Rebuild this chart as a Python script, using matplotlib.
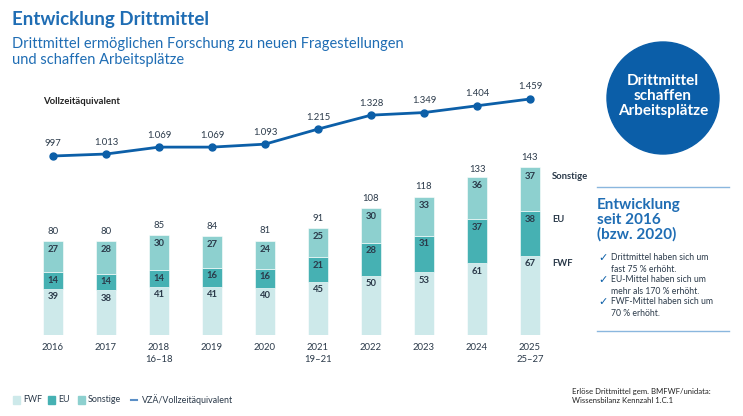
import matplotlib
matplotlib.use("Agg")
import matplotlib.pyplot as plt
from matplotlib.patches import Circle
import numpy as np

plt.rcParams['font.family'] = ['Lato', 'DejaVu Sans']

years = ["2016", "2017", "2018\n16–18", "2019", "2020", "2021\n19–21", "2022", "2023", "2024", "2025\n25–27"]
fwf = [39, 38, 41, 41, 40, 45, 50, 53, 61, 67]
eu = [14, 14, 14, 16, 16, 21, 28, 31, 37, 38]
sonstige = [27, 28, 30, 27, 24, 25, 30, 33, 36, 37]
totals = [80, 80, 85, 84, 81, 91, 108, 118, 133, 143]
vza = [997, 1013, 1069, 1069, 1093, 1215, 1328, 1349, 1404, 1459]
vza_labels = ["997", "1.013", "1.069", "1.069", "1.093", "1.215", "1.328", "1.349", "1.404", "1.459"]

C_FWF = "#cde9ea"
C_EU = "#46b1b3"
C_SON = "#8dd0cf"
C_LINE = "#0c5fa8"
C_TITLE = "#1f6db4"
C_TEXT = "#2b3a4a"

W, H = 743, 416
fig = plt.figure(figsize=(W / 100, H / 100), dpi=100)
fig.patch.set_facecolor("white")

def fx(px):
    return px / W

def fy(py):
    return 1 - py / H

# bar axes: pixel x 30..560, y 60..335
left, right, top, bottom = 30, 560, 60, 335
ax = fig.add_axes([fx(left), fy(bottom), fx(right - left), (bottom - top) / H])
x = np.arange(len(years))
spacing = (530 - 53) / 9
ax.set_xlim(-(53 - left) / spacing, 9 + (right - 530) / spacing)
pxu = 1.18
ax.set_ylim(0, (bottom - top) / pxu)

bw = 20 / spacing
ax.bar(x, fwf, bw, color=C_FWF, edgecolor="white", linewidth=0.4)
ax.bar(x, eu, bw, bottom=fwf, color=C_EU, edgecolor="white", linewidth=0.4)
bot3 = np.array(fwf) + np.array(eu)
ax.bar(x, sonstige, bw, bottom=bot3, color=C_SON, edgecolor="white", linewidth=0.4)

for i in range(len(years)):
    ax.annotate(str(fwf[i]), (x[i], fwf[i]), xytext=(0, -8), textcoords="offset pixels",
                ha="center", va="center", fontsize=6.8, color=C_TEXT, fontweight="bold")
    ax.annotate(str(eu[i]), (x[i], fwf[i] + eu[i]), xytext=(0, -8), textcoords="offset pixels",
                ha="center", va="center", fontsize=6.8, color=C_TEXT, fontweight="bold")
    ax.annotate(str(sonstige[i]), (x[i], bot3[i] + sonstige[i]), xytext=(0, -9), textcoords="offset pixels",
                ha="center", va="center", fontsize=6.8, color=C_TEXT, fontweight="bold")
    ax.annotate(str(totals[i]), (x[i], totals[i]), xytext=(0, 9), textcoords="offset pixels",
                ha="center", va="center", fontsize=6.8, color=C_TEXT)

# series labels at right of last bar
last = len(years) - 1
ax.annotate("Sonstige", (x[last], bot3[last] + sonstige[last]), xytext=(22, -9), textcoords="offset pixels",
            ha="left", va="center", fontsize=6.8, color=C_TEXT, fontweight="bold")
ax.annotate("EU", (x[last], fwf[last] + eu[last]), xytext=(22, -8), textcoords="offset pixels",
            ha="left", va="center", fontsize=6.8, color=C_TEXT, fontweight="bold")
ax.annotate("FWF", (x[last], fwf[last]), xytext=(22, -8), textcoords="offset pixels",
            ha="left", va="center", fontsize=6.8, color=C_TEXT, fontweight="bold")

# line axes
ax2 = ax.twinx()
lpx = 0.1234
y0 = 997 - (bottom - 156) / lpx
y1 = 997 + (156 - top) / lpx
ax2.set_ylim(y0, y1)
ax2.plot(x, vza, color=C_LINE, lw=2, marker="o", ms=5)
for i in range(len(years)):
    ax2.annotate(vza_labels[i], (x[i], vza[i]), xytext=(0, 12), textcoords="offset pixels",
                 ha="center", va="center", fontsize=6.8, color=C_TEXT)
ax2.axis("off")

ax.set_xticks(x)
ax.set_xticklabels(years, fontsize=6.8, color=C_TEXT, linespacing=1.4)
ax.tick_params(axis="x", length=0, pad=6)
ax.tick_params(axis="y", left=False, right=False, labelleft=False, labelright=False, length=0)
ax.set_yticks([])
for s in ax.spines.values():
    s.set_visible(False)
ax.patch.set_alpha(0)

# overlay axes for free-form text
ov = fig.add_axes([0, 0, 1, 1])
ov.set_xlim(0, W)
ov.set_ylim(H, 0)
ov.axis("off")
ov.patch.set_alpha(0)

ov.text(12, 20, "Entwicklung Drittmittel", fontsize=13.5, fontweight="bold", color=C_TITLE, va="center", ha="left")
ov.text(12, 52, "Drittmittel ermöglichen Forschung zu neuen Fragestellungen\nund schaffen Arbeitsplätze",
        fontsize=10.5, color=C_TITLE, va="center", ha="left", linespacing=1.15)
ov.text(43, 101, "Vollzeitäquivalent", fontsize=6.8, fontweight="bold", color="#222222", va="center", ha="left")

ov.add_patch(Circle((663, 98), 56, color="#0b5ea8", zorder=1))
ov.text(663, 96, "Drittmittel\nschaffen\nArbeitsplätze", fontsize=11, fontweight="bold", color="white",
        ha="center", va="center", linespacing=1.08, zorder=2)

ov.plot([597, 729], [187, 187], color="#8ab7de", lw=1)
ov.plot([597, 729], [331, 331], color="#8ab7de", lw=1)
ov.text(597, 220, "Entwicklung\nseit 2016\n(bzw. 2020)", fontsize=11, fontweight="bold", color=C_TITLE,
        ha="left", va="center", linespacing=1.05)
bullets = [
    (258, "Drittmittel haben sich um\nfast 75 % erhöht."),
    (280, "EU-Mittel haben sich um\nmehr als 170 % erhöht."),
    (302, "FWF-Mittel haben sich um\n70 % erhöht."),
]
for by, txt in bullets:
    ov.text(598, by, "✓", fontsize=8, color=C_LINE, ha="left", va="center", family="DejaVu Sans", fontweight="bold")
    ov.text(611, by - 4.5, txt, fontsize=6.2, color=C_TEXT, ha="left", va="top", linespacing=1.3)

ov.text(572, 396, "Erlöse Drittmittel gem. BMFWF/unidata:\nWissensbilanz Kennzahl 1.C.1", fontsize=5.6,
        color="#222222", ha="left", va="center", linespacing=1.35)

# legend
ly = 400
items = [("FWF", C_FWF, "box"), ("EU", C_EU, "box"), ("Sonstige", C_SON, "box"), ("VZÄ/Vollzeitäquivalent", C_LINE, "line")]
positions = [13, 48, 78, 131]
for (lab, col, kind), px in zip(items, positions):
    if kind == "box":
        ov.add_patch(plt.Rectangle((px, ly - 4), 7, 8, color=col))
        ov.text(px + 10, ly, lab, fontsize=6.4, color=C_TEXT, va="center", ha="left")
    else:
        ov.plot([px, px + 6], [ly, ly], color="#5b8fc7", lw=1.5)
        ov.text(px + 11, ly, lab, fontsize=6.4, color=C_TEXT, va="center", ha="left")

fig.savefig("out.png", dpi=100)
